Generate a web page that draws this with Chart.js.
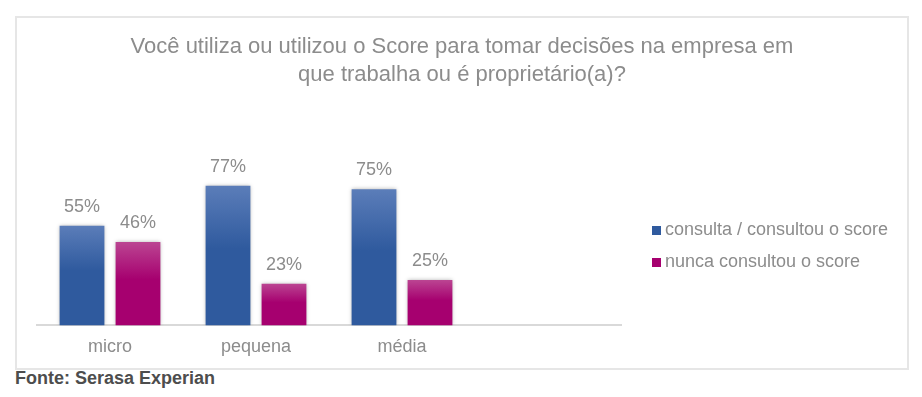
<!DOCTYPE html>
<html>
<head>
<meta charset="utf-8">
<script src="https://cdn.jsdelivr.net/npm/chart.js@4/dist/chart.umd.min.js"></script>
<style>
  body { margin: 0; background: #fff; font-family: 'Liberation Sans', Arial, sans-serif; }
  #frame { position: absolute; left: 15px; top: 16px; width: 890px; height: 350px; border: 2px solid #e6e6e6; }
  #chartBox { position: absolute; left: 0; top: 0; width: 890px; height: 350px; }
  #title { position: absolute; left: 0; top: 14px; width: 890px; text-align: center; font-size: 22px; line-height: 28px; color: #8c8c8c; }
  #legend { position: absolute; left: 635px; top: 199px; font-size: 18px; color: #8c8c8c; }
  #legend div { height: 32px; line-height: 24px; white-space: nowrap; }
  #legend span { display: inline-block; width: 9px; height: 9px; margin-right: 4px; }
  #source { position: absolute; left: 15px; top: 368px; font-size: 18px; font-weight: bold; color: #4d4d4d; }
</style>
</head>
<body>
<div id="frame">
  <div id="chartBox"><canvas id="scoreChart"></canvas></div>
  <div id="title"></div>
  <div id="legend"></div>
</div>
<div id="source">Fonte: Serasa Experian</div>

<script>
'use strict';

// Data
let categories = ['micro', 'pequena', 'média', ''];
let seriesNames = ['consulta / consultou o score', 'nunca consultou o score'];
let consultaValues = [55, 77, 75, null];
let nuncaValues = [46, 23, 25, null];
let titleLines = ['Você utiliza ou utilizou o Score para tomar decisões na empresa em', 'que trabalha ou é proprietário(a)?'];

// Colours (top, bottom of each bar)
let blueStops = ['#5b7db9', '#2f5a9e'];
let pinkStops = ['#bb4592', '#a6006f'];

function barGradient(stops){
  return function(context){
    let chart = context.chart;
    let yScale = chart.scales.y;
    if (!chart.chartArea || !yScale || context.type !== 'data' || context.raw === null){
      return stops[1];
    }
    let top = yScale.getPixelForValue(context.raw);
    let bottom = yScale.getPixelForValue(0);
    let grad = chart.ctx.createLinearGradient(0, top, 0, bottom);
    grad.addColorStop(0, stops[0]);
    grad.addColorStop(0.45, stops[1]);
    grad.addColorStop(1, stops[1]);
    return grad;
  };
}

// Plugins
let barShadow = {
  id: 'barShadow',
  beforeDatasetDraw(chart){
    chart.ctx.save();
    chart.ctx.shadowColor = 'rgba(0,0,0,0.3)';
    chart.ctx.shadowBlur = 4;
  },
  afterDatasetDraw(chart){
    chart.ctx.restore();
  }
};

let valueLabels = {
  id: 'valueLabels',
  afterDatasetsDraw(chart){
    let ctx = chart.ctx;
    ctx.save();
    ctx.font = '18px "Liberation Sans", Arial, sans-serif';
    ctx.fillStyle = '#8c8c8c';
    ctx.textAlign = 'center';
    ctx.textBaseline = 'middle';
    chart.data.datasets.forEach((ds, i) => {
      chart.getDatasetMeta(i).data.forEach((bar, j) => {
        if (ds.data[j] === null) return;
        ctx.fillText(ds.data[j] + '%', bar.x, bar.y - 19);
      });
    });
    ctx.restore();
  }
};

let chartContext = document.getElementById('scoreChart');

new Chart(chartContext, { // eslint-disable-line
  type: 'bar',
  data: {
    labels: categories,
    datasets: [
      {
        label: seriesNames[0],
        data: consultaValues,
        backgroundColor: barGradient(blueStops),
        categoryPercentage: 0.767,
        barPercentage: 0.8
      },
      {
        label: seriesNames[1],
        data: nuncaValues,
        backgroundColor: barGradient(pinkStops),
        categoryPercentage: 0.767,
        barPercentage: 0.8
      }
    ]
  },
  options: {
    responsive: true,
    maintainAspectRatio: false,
    animation: false,
    layout: { padding: { left: 20, right: 286, top: 126, bottom: 7 } },
    plugins: {
      legend: { display: false },
      tooltip: { enabled: false },
      title: { display: false }
    },
    scales: {
      x: {
        grid: { display: false },
        border: { display: true, color: '#d9d9d9', width: 2 },
        ticks: {
          color: '#8c8c8c',
          padding: 3,
          font: { family: '"Liberation Sans", Arial, sans-serif', size: 18 }
        }
      },
      y: {
        display: false,
        min: 0,
        max: 100
      }
    }
  },
  plugins: [barShadow, valueLabels]
});

// Title
let titleBox = document.getElementById('title');
titleBox.innerHTML = titleLines.join('<br>');

// Legend
let legendBox = document.getElementById('legend');
let legendColors = [blueStops[1], pinkStops[1]];
seriesNames.forEach((name, i) => {
  let row = document.createElement('div');
  let swatch = document.createElement('span');
  swatch.style.background = legendColors[i];
  row.appendChild(swatch);
  row.appendChild(document.createTextNode(name));
  legendBox.appendChild(row);
});
</script>
</body>
</html>
